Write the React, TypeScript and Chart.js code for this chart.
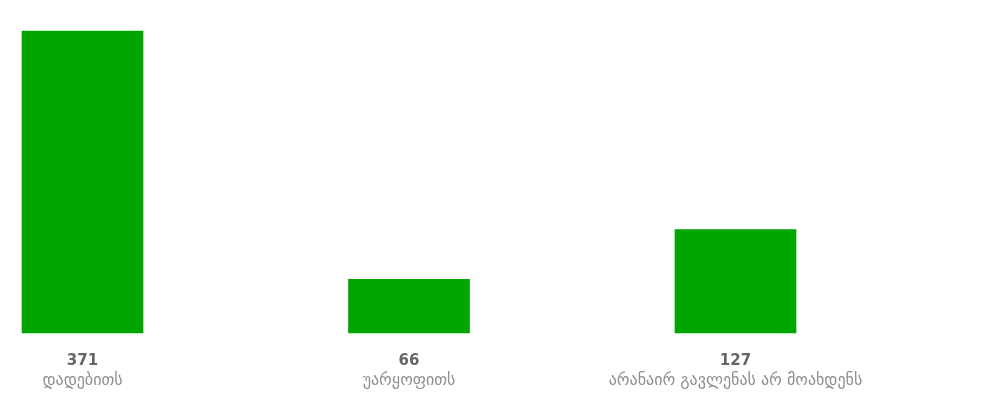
import React, { useEffect, useRef } from "react";
import { Chart, registerables } from "chart.js";

Chart.register(...registerables);

const categories: string[] = ["დადებითს", "უარყოფითს", "არანაირ გავლენას არ მოახდენს"];
const values: number[] = [371, 66, 127];
const barColor = "#00a500";

const labelPlugin = {
  id: "bottomLabels",
  afterDraw(chart: any) {
    const ctx = chart.ctx;
    const xs = chart.scales.x;
    ctx.save();
    ctx.textAlign = "center";
    ctx.textBaseline = "middle";
    values.forEach((v, i) => {
      const x = xs.getPixelForValue(i);
      ctx.font = "bold 15px 'DejaVu Sans'";
      ctx.fillStyle = "#666666";
      ctx.fillText(String(v), x, 353);
      ctx.font = "16px 'DejaVu Sans'";
      ctx.fillStyle = "#8f8f8f";
      ctx.fillText(categories[i], x, 373);
    });
    ctx.restore();
  },
};

export default function App() {
  const ref = useRef<HTMLCanvasElement | null>(null);
  useEffect(() => {
    if (!ref.current) return;
    const chart = new Chart(ref.current, {
      type: "bar",
      data: {
        labels: categories,
        datasets: [
          {
            data: values,
            backgroundColor: barColor,
            borderWidth: 0,
            barThickness: 121,
            clip: false as any,
          },
        ],
      },
      options: {
        animation: false,
        responsive: true,
        maintainAspectRatio: false,
        layout: { padding: { left: 74.5, right: 241.5, top: 23, bottom: 60 } },
        plugins: { legend: { display: false }, tooltip: { enabled: false }, title: { display: false } },
        scales: {
          x: { display: false, offset: false, grid: { display: false } },
          y: { display: false, min: 0, max: 371 },
        },
      },
      plugins: [labelPlugin],
    });
    return () => chart.destroy();
  }, []);
  return (
    <div style={{ width: "100%", height: "385px", position: "relative" }}>
      <canvas ref={ref} />
    </div>
  );
}
